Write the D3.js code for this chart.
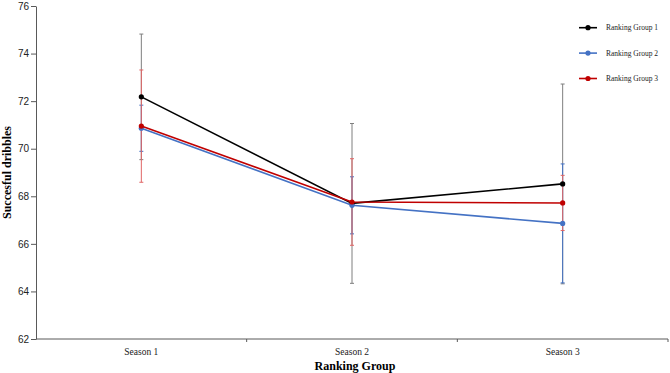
<!DOCTYPE html>
<html lang="en">
<head>
    <meta charset="UTF-8">
    <title>Succesful dribbles by Ranking Group</title>
    <script src="https://d3js.org/d3.v7.min.js"></script>
    <style>
        body { margin: 0; background: #fff; }
        svg { display: block; font-family: "Liberation Serif", "Times New Roman", serif; }
        .axis path, .axis line { stroke: #595959; }
        .axis text { fill: #222; }
        .series-line { fill: none; stroke-width: 1.6px; }
        .err { stroke-width: 1px; }
        .legend text { font-size: 7.5px; fill: #222; }
    </style>
</head>
<body>
    <svg id="chart" width="670" height="373"></svg>

    <script>
        // Data
        const seasons = ["Season 1", "Season 2", "Season 3"];
        const groups = ["Ranking Group 1", "Ranking Group 2", "Ranking Group 3"];
        const colors = ["#000000", "#4472c4", "#c00000"];
        const errColors = ["#7f7f7f", "#4472c4", "#e06666"];

        const group1Mean = [72.18, 67.70, 68.52];
        const group1Err = [2.64, 3.36, 4.20];
        const group2Mean = [70.86, 67.62, 66.86];
        const group2Err = [0.97, 1.20, 2.50];
        const group3Mean = [70.95, 67.76, 67.72];
        const group3Err = [2.36, 1.82, 1.16];

        const yTicks = [62, 64, 66, 68, 70, 72, 74, 76];

        const series = [
            { name: groups[0], mean: group1Mean, err: group1Err, color: colors[0], errColor: errColors[0] },
            { name: groups[1], mean: group2Mean, err: group2Err, color: colors[1], errColor: errColors[1] },
            { name: groups[2], mean: group3Mean, err: group3Err, color: colors[2], errColor: errColors[2] }
        ];

        const width = 670;
        const height = 373;
        const margin = { top: 6, right: 2, bottom: 34, left: 36 };

        const svg = d3.select("#chart");

        const x = d3.scaleBand()
            .domain(seasons)
            .range([margin.left, width - margin.right]);

        const y = d3.scaleLinear()
            .domain([62, 76])
            .range([height - margin.bottom, margin.top]);

        // Y axis
        svg.append("g")
            .attr("class", "axis")
            .attr("transform", `translate(${margin.left},0)`)
            .call(d3.axisLeft(y).tickValues(yTicks).tickSize(5).tickSizeOuter(0))
            .call(g => g.selectAll("text").style("font-size", "10px").attr("x", -7));

        // X axis (ticks at band boundaries)
        const xAxis = svg.append("g")
            .attr("class", "axis")
            .attr("transform", `translate(0,${height - margin.bottom})`);
        xAxis.append("line")
            .attr("x1", margin.left).attr("x2", width - margin.right)
            .attr("y1", 0).attr("y2", 0);
        xAxis.selectAll(".tk")
            .data(seasons.slice(1).concat(["end"]))
            .enter().append("line")
            .attr("class", "tk")
            .attr("x1", (d, i) => x(seasons[i]) + x.bandwidth())
            .attr("x2", (d, i) => x(seasons[i]) + x.bandwidth())
            .attr("y1", 0).attr("y2", 3);
        xAxis.selectAll(".lbl")
            .data(seasons)
            .enter().append("text")
            .attr("class", "lbl")
            .attr("x", d => x(d) + x.bandwidth() / 2)
            .attr("y", 16)
            .attr("text-anchor", "middle")
            .style("font-size", "9.5px")
            .text(d => d);

        // Axis titles
        svg.append("text")
            .attr("x", x(seasons[1]) + x.bandwidth() / 2 + 3)
            .attr("y", 370)
            .attr("text-anchor", "middle")
            .style("font-size", "12px")
            .style("font-weight", "bold")
            .text("Ranking Group");

        svg.append("text")
            .attr("transform", `translate(11,${y(69)}) rotate(-90)`)
            .attr("text-anchor", "middle")
            .style("font-size", "12px")
            .style("font-weight", "bold")
            .text("Succesful dribbles");

        const cx = s => x(s) + x.bandwidth() / 2;

        // Error bars
        series.forEach(s => {
            const g = svg.append("g").attr("stroke", s.errColor).attr("class", "err");
            seasons.forEach((season, i) => {
                const hi = y(s.mean[i] + s.err[i]);
                const lo = y(s.mean[i] - s.err[i]);
                g.append("line").attr("x1", cx(season)).attr("x2", cx(season)).attr("y1", hi).attr("y2", lo);
                g.append("line").attr("x1", cx(season) - 2).attr("x2", cx(season) + 2).attr("y1", hi).attr("y2", hi);
                g.append("line").attr("x1", cx(season) - 2).attr("x2", cx(season) + 2).attr("y1", lo).attr("y2", lo);
            });
        });

        // Lines and markers
        const line = d3.line()
            .x((d, i) => cx(seasons[i]))
            .y(d => y(d));

        series.forEach(s => {
            svg.append("path")
                .attr("class", "series-line")
                .attr("stroke", s.color)
                .attr("d", line(s.mean));
            svg.selectAll(null)
                .data(s.mean)
                .enter().append("circle")
                .attr("cx", (d, i) => cx(seasons[i]))
                .attr("cy", d => y(d))
                .attr("r", 2.6)
                .attr("fill", s.color);
        });

        // Legend
        const legend = svg.append("g").attr("class", "legend");
        series.forEach((s, i) => {
            const ly = 27.7 + i * 25.4;
            legend.append("line")
                .attr("x1", 579).attr("x2", 597)
                .attr("y1", ly).attr("y2", ly)
                .attr("stroke", s.color).attr("stroke-width", 1.6);
            legend.append("circle")
                .attr("cx", 588).attr("cy", ly).attr("r", 2.6)
                .attr("fill", s.color);
            legend.append("text")
                .attr("x", 606).attr("y", ly)
                .attr("dy", "0.32em")
                .text(s.name);
        });
    </script>
</body>
</html>
